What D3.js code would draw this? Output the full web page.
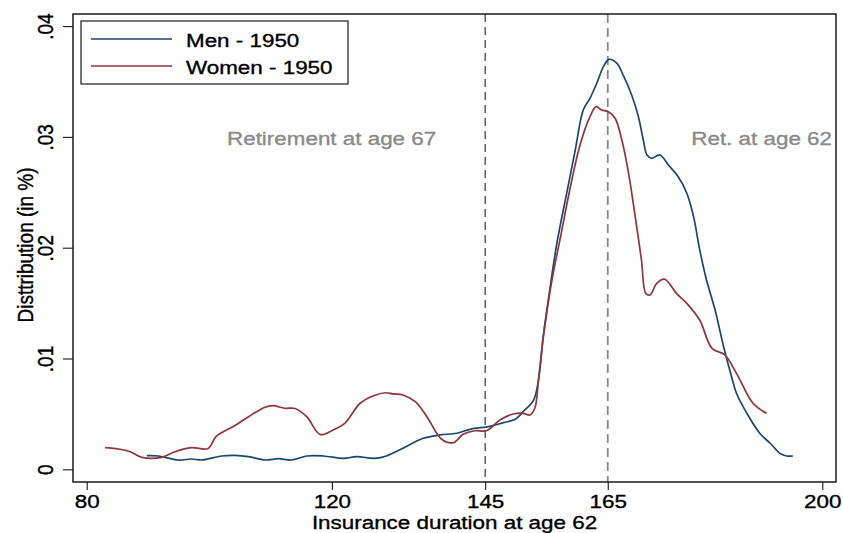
<!DOCTYPE html>
<html><head><meta charset="utf-8">
<script src="https://cdn.jsdelivr.net/npm/d3@7"></script>
<style>body{margin:0;background:#fff}svg{display:block}text{font-family:"Liberation Sans",Arial,sans-serif}</style>
</head><body><svg id="c" width="843" height="533"></svg>
<script>
// ---- data ----
const womenX = [83.0,85.2,87.1,89.0,92.2,94.4,97.1,99.8,101.2,104.2,106.4,109.1,110.4,112.3,114.0,115.9,118.1,120.2,122.1,124.6,126.8,128.7,130.0,131.6,133.6,135.5,137.9,139.8,141.4,143.3,145.3,147.4,149.6,151.2,152.3,153.1,153.7,154.5,155.9,157.2,158.8,160.4,162.1,163.1,164.0,165.1,166.2,167.3,168.4,169.4,170.5,171.2,171.9,173.0,174.3,176.2,177.9,180.0,182.0,184.1,186.0,188.7,190.9];
const womenY = [0.00195,0.00183,0.00159,0.00108,0.00108,0.00159,0.00195,0.00188,0.00301,0.00395,0.00475,0.00560,0.00574,0.00551,0.00549,0.00475,0.00314,0.00355,0.00415,0.00596,0.00664,0.00691,0.00680,0.00671,0.00610,0.00475,0.00271,0.00240,0.00316,0.00348,0.00350,0.00445,0.00499,0.00505,0.00490,0.00551,0.00806,0.01197,0.01708,0.02070,0.02521,0.02912,0.03182,0.03273,0.03243,0.03227,0.03168,0.02972,0.02671,0.02310,0.01889,0.01588,0.01573,0.01679,0.01715,0.01588,0.01498,0.01347,0.01092,0.01032,0.00866,0.00596,0.00505];
const menX = [89.8,91.7,94.9,97.1,98.8,102.0,104.2,106.4,109.1,111.3,113.4,115.9,118.6,121.9,124.0,127.0,128.9,131.6,134.9,137.6,140.4,142.5,145.8,148.0,149.9,151.2,152.9,153.7,154.5,155.3,156.7,158.3,159.7,161.0,162.1,163.2,164.3,165.2,166.5,167.5,168.9,170.0,170.8,171.4,172.2,173.5,174.9,176.5,177.9,179.0,180.0,181.1,182.5,183.9,185.2,186.0,187.7,189.8,191.5,193.1,194.2,195.2];
const menY = [0.00123,0.00120,0.00084,0.00093,0.00084,0.00120,0.00126,0.00114,0.00084,0.00096,0.00084,0.00120,0.00120,0.00099,0.00114,0.00099,0.00120,0.00190,0.00280,0.00310,0.00325,0.00361,0.00388,0.00421,0.00451,0.00520,0.00625,0.00806,0.01212,0.01528,0.02040,0.02491,0.02882,0.03243,0.03348,0.03484,0.03634,0.03700,0.03664,0.03559,0.03378,0.03182,0.02972,0.02837,0.02807,0.02837,0.02746,0.02641,0.02491,0.02280,0.01982,0.01711,0.01440,0.01106,0.00836,0.00686,0.00505,0.00325,0.00235,0.00144,0.00120,0.00120];
const xTicks = [80,120,145,165,200];
const yTicks = [0,0.01,0.02,0.03,0.04];
const yTickLabels = ["0",".01",".02",".03",".04"];
const seriesNames = ["Men - 1950","Women - 1950"];
const refLines = [145,165];
const annotations = ["Retirement at age 67","Ret. at age 62"];
const xTitle = "Insurance duration at age 62";
const yTitle = "Disttribution (in %)";

// ---- layout ----
const SX = 1.18, FS = 19, TSW = 0.35;
const plot = {l:73, r:836, t:14, b:482};
const colors = ["#1a476f","#90353b"];
const svg = d3.select("#c");
const x = d3.scaleLinear().domain([80,200]).range([86.7,822.3]);
const y = d3.scaleLinear().domain([0,0.04]).range([469.3,26.1]);

function sText(g, px, py, txt, anchor, fill){
  const f = fill||"#000";
  return g.append("g").attr("transform",`translate(${px},${py}) scale(${SX},1)`)
    .append("text").attr("text-anchor",anchor||"start").attr("font-size",FS)
    .attr("fill",f).attr("stroke",f).attr("stroke-width",TSW).text(txt);
}

// reference lines
svg.append("line").attr("x1",x(refLines[0])).attr("x2",x(refLines[0]))
  .attr("y1",plot.t).attr("y2",plot.b).attr("stroke","#222").attr("stroke-width",1.1)
  .attr("stroke-dasharray","8,5");
svg.append("line").attr("x1",x(refLines[1])).attr("x2",x(refLines[1]))
  .attr("y1",plot.t).attr("y2",plot.b).attr("stroke","#8a8a8a").attr("stroke-width",1.8)
  .attr("stroke-dasharray","9,5");

// lines
const line = d3.line().x(d=>x(d[0])).y(d=>y(d[1])).curve(d3.curveCatmullRom.alpha(0.5));
const menData = menX.map((v,i)=>[v,menY[i]]);
const womenData = womenX.map((v,i)=>[v,womenY[i]]);
svg.append("path").datum(menData).attr("d",line).attr("fill","none")
  .attr("stroke",colors[0]).attr("stroke-width",1.7);
svg.append("path").datum(womenData).attr("d",line).attr("fill","none")
  .attr("stroke",colors[1]).attr("stroke-width",1.7);

// frame
svg.append("rect").attr("x",plot.l).attr("y",plot.t).attr("width",plot.r-plot.l)
  .attr("height",plot.b-plot.t).attr("fill","none").attr("stroke","#1a1a1a").attr("stroke-width",1.5);

// x axis
const xa = svg.append("g").attr("transform",`translate(0,${plot.b})`)
  .call(d3.axisBottom(x).tickValues(xTicks).tickSize(8).tickPadding(5).tickFormat(d3.format("d")));
xa.select(".domain").remove();
xa.selectAll("line").attr("stroke","#1a1a1a").attr("stroke-width",1.1);
xa.selectAll("text").attr("font-size",FS).attr("font-family","Liberation Sans, Arial, sans-serif")
  .attr("fill","#000").attr("stroke","#000").attr("stroke-width",TSW)
  .attr("transform",`scale(${SX},1)`).attr("x",0);

// y axis
const ya = svg.append("g").attr("transform",`translate(${plot.l},0)`)
  .call(d3.axisLeft(y).tickValues(yTicks).tickSize(10).tickFormat((d,i)=>yTickLabels[i]));
ya.select(".domain").remove();
ya.selectAll("line").attr("stroke","#1a1a1a").attr("stroke-width",1.1);
ya.selectAll("text").attr("font-size",FS).attr("font-family","Liberation Sans, Arial, sans-serif")
  .attr("fill","#000").attr("stroke","#000").attr("stroke-width",TSW)
  .attr("x",null).attr("dy",null).attr("text-anchor","middle")
  .attr("transform",`translate(-20,0) rotate(-90) scale(1,${SX})`);

// axis titles
sText(svg, (plot.l+plot.r)/2, 529, xTitle, "middle");
svg.append("text").attr("transform",`translate(33,245) rotate(-90) scale(1,${SX})`)
  .attr("text-anchor","middle").attr("font-size",FS)
  .attr("stroke","#000").attr("stroke-width",TSW).text(yTitle);

// annotations
sText(svg, 227, 145, annotations[0], "start", "#8a8a8a");
sText(svg, 832, 145, annotations[1], "end", "#8a8a8a");

// legend
const lg = svg.append("g");
lg.append("rect").attr("x",81).attr("y",21).attr("width",267).attr("height",63)
  .attr("fill","#fff").attr("stroke","#1a1a1a").attr("stroke-width",1.2);
seriesNames.forEach((n,i)=>{
  const ly = 39 + i*27;
  lg.append("line").attr("x1",91).attr("x2",172).attr("y1",ly).attr("y2",ly)
    .attr("stroke",colors[i]).attr("stroke-width",1.7);
  sText(lg, 186, ly+7.5, n, "start");
});
</script></body></html>
